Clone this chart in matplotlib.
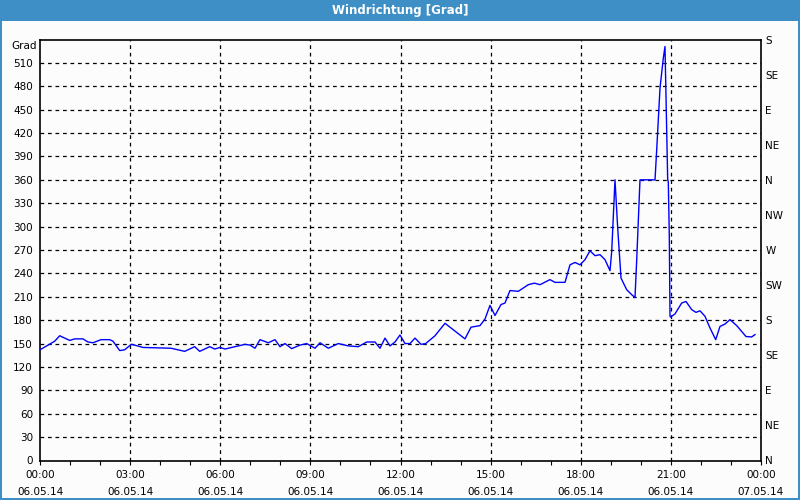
import matplotlib
matplotlib.use("Agg")
import matplotlib.pyplot as plt
from matplotlib.patches import Rectangle

# ---- data (hours since 06.05.14 00:00, wind direction in degrees) ----
hours = [0.0, 0.489, 0.656, 0.989, 1.155, 1.431, 1.598, 1.764, 2.031, 2.320,
         2.430, 2.653, 2.819, 3.039, 3.152, 3.429, 4.361, 4.817, 5.149, 5.316,
         5.649, 5.815, 5.992, 6.158, 6.491, 6.824, 6.990, 7.157, 7.323, 7.600,
         7.822, 7.989, 8.155, 8.378, 8.655, 8.878, 9.154, 9.320, 9.597, 9.930,
         10.263, 10.595, 10.875, 11.151, 11.318, 11.484, 11.650, 11.817, 11.983, 12.150,
         12.316, 12.483, 12.682, 12.839, 13.148, 13.481, 14.147, 14.347, 14.646, 14.813,
         14.979, 15.146, 15.345, 15.478, 15.645, 15.921, 16.254, 16.454, 16.644, 16.976,
         17.143, 17.476, 17.642, 17.809, 17.975, 18.141, 18.308, 18.474, 18.641, 18.807,
         18.974, 19.030, 19.140, 19.230, 19.340, 19.530, 19.696, 19.806, 19.863, 19.972,
         20.472, 20.528, 20.638, 20.748, 20.804, 20.894, 20.914, 20.948, 20.971, 20.994,
         21.137, 21.360, 21.503, 21.693, 21.836, 21.969, 22.136, 22.302, 22.492, 22.635,
         22.801, 22.968, 23.191, 23.501, 23.690, 23.800]
direction = [142, 153, 160, 154, 156, 156, 152, 151, 155, 155,
             153, 141, 142, 149, 148, 145, 144, 140, 146, 140,
             146, 143, 145, 143, 146, 149, 148, 144, 155, 151,
             155, 146, 150, 143.5, 148, 150, 144, 151, 144, 150,
             147, 146, 152, 152, 144, 157, 147, 152, 161, 150,
             150, 157, 149, 150, 160, 176, 156, 171, 173, 181.5,
             199, 186, 200, 202, 218, 217, 225.5, 227.5, 225.5, 232,
             228.5, 228.5, 251, 254, 251, 257.6, 269, 262.7, 264, 257.6,
             243.5, 268, 360, 298, 234, 219, 212.7, 209, 257.6, 360,
             360, 398.5, 477.6, 516, 531, 360, 358, 287, 185, 184,
             188, 202, 204, 193.5, 190, 192, 185, 170, 155, 172,
             175, 180.7, 173, 159, 158.5, 161.5]

time_labels = ["00:00\n06.05.14", "03:00\n06.05.14", "06:00\n06.05.14",
               "09:00\n06.05.14", "12:00\n06.05.14", "15:00\n06.05.14",
               "18:00\n06.05.14", "21:00\n06.05.14", "00:00\n07.05.14"]
grad_ticks = list(range(0, 511, 30))
grid_levels = list(range(30, 511, 30))
compass_ticks = list(range(0, 541, 45))
compass_labels = ["N", "NE", "E", "SE", "S", "SW", "W", "NW",
                  "N", "NE", "E", "SE", "S"]
title = "Windrichtung [Grad]"

# ---- figure ----
bg = "#fbfcfb"
frame_blue = "#3d8fc6"
fig = plt.figure(figsize=(8, 5), dpi=100, facecolor=bg)
plt.rcParams['font.family'] = ['DejaVu Sans']

# title bar and frame
fig.patches.append(Rectangle((0, 1 - 21 / 500), 1, 21 / 500, transform=fig.transFigure,
                             facecolor=frame_blue, edgecolor="none", zorder=0))
for rect in [(0, 0, 2 / 800, 1), (1 - 2 / 800, 0, 2 / 800, 1), (0, 0, 1, 2 / 500)]:
    fig.patches.append(Rectangle(rect[:2], rect[2], rect[3], transform=fig.transFigure,
                                 facecolor=frame_blue, edgecolor="none", zorder=0))
fig.text(0.5, 1 - 10.5 / 500, title, color="white", fontsize=8.5, fontweight="bold",
         ha="center", va="center")

ax = fig.add_axes([40 / 800, 39.5 / 500, 721 / 800, 421 / 500])
ax.set_facecolor(bg)
ax.plot(hours, direction, color="#0000ff", lw=1.0, zorder=3)

ax.set_xlim(0, 24)
ax.set_ylim(0, 540)

ax.set_xticks(list(range(0, 25, 3)))
ax.set_xticklabels(time_labels, fontsize=7.5, linespacing=1.9)
ax.set_xticks(list(range(0, 25, 1)), minor=True)
ax.tick_params(axis="x", which="both", length=3, width=0.8, direction="out", pad=4)

ax.set_yticks(grad_ticks)
ax.set_yticklabels([str(v) for v in grad_ticks], fontsize=7.5)
ax.tick_params(axis="y", length=0, pad=5)

for v in grid_levels:
    ax.axhline(v, color="black", lw=0.9, ls=(0, (3, 3)), zorder=1)
for h in range(3, 24, 3):
    ax.axvline(h, color="black", lw=0.9, ls=(0, (3, 3)), zorder=1)

for s in ax.spines.values():
    s.set_color("black")
    s.set_linewidth(1.2)

ax2 = ax.twinx()
ax2.set_ylim(0, 540)
ax2.set_yticks(compass_ticks)
ax2.set_yticklabels(compass_labels, fontsize=7.5)
ax2.tick_params(axis="y", length=0, pad=3)
for s in ax2.spines.values():
    s.set_visible(False)

fig.text(24 / 800, 1 - 46 / 500, "Grad", fontsize=7.5, ha="center", va="center")

fig.savefig("out.png", dpi=100, facecolor=bg)
